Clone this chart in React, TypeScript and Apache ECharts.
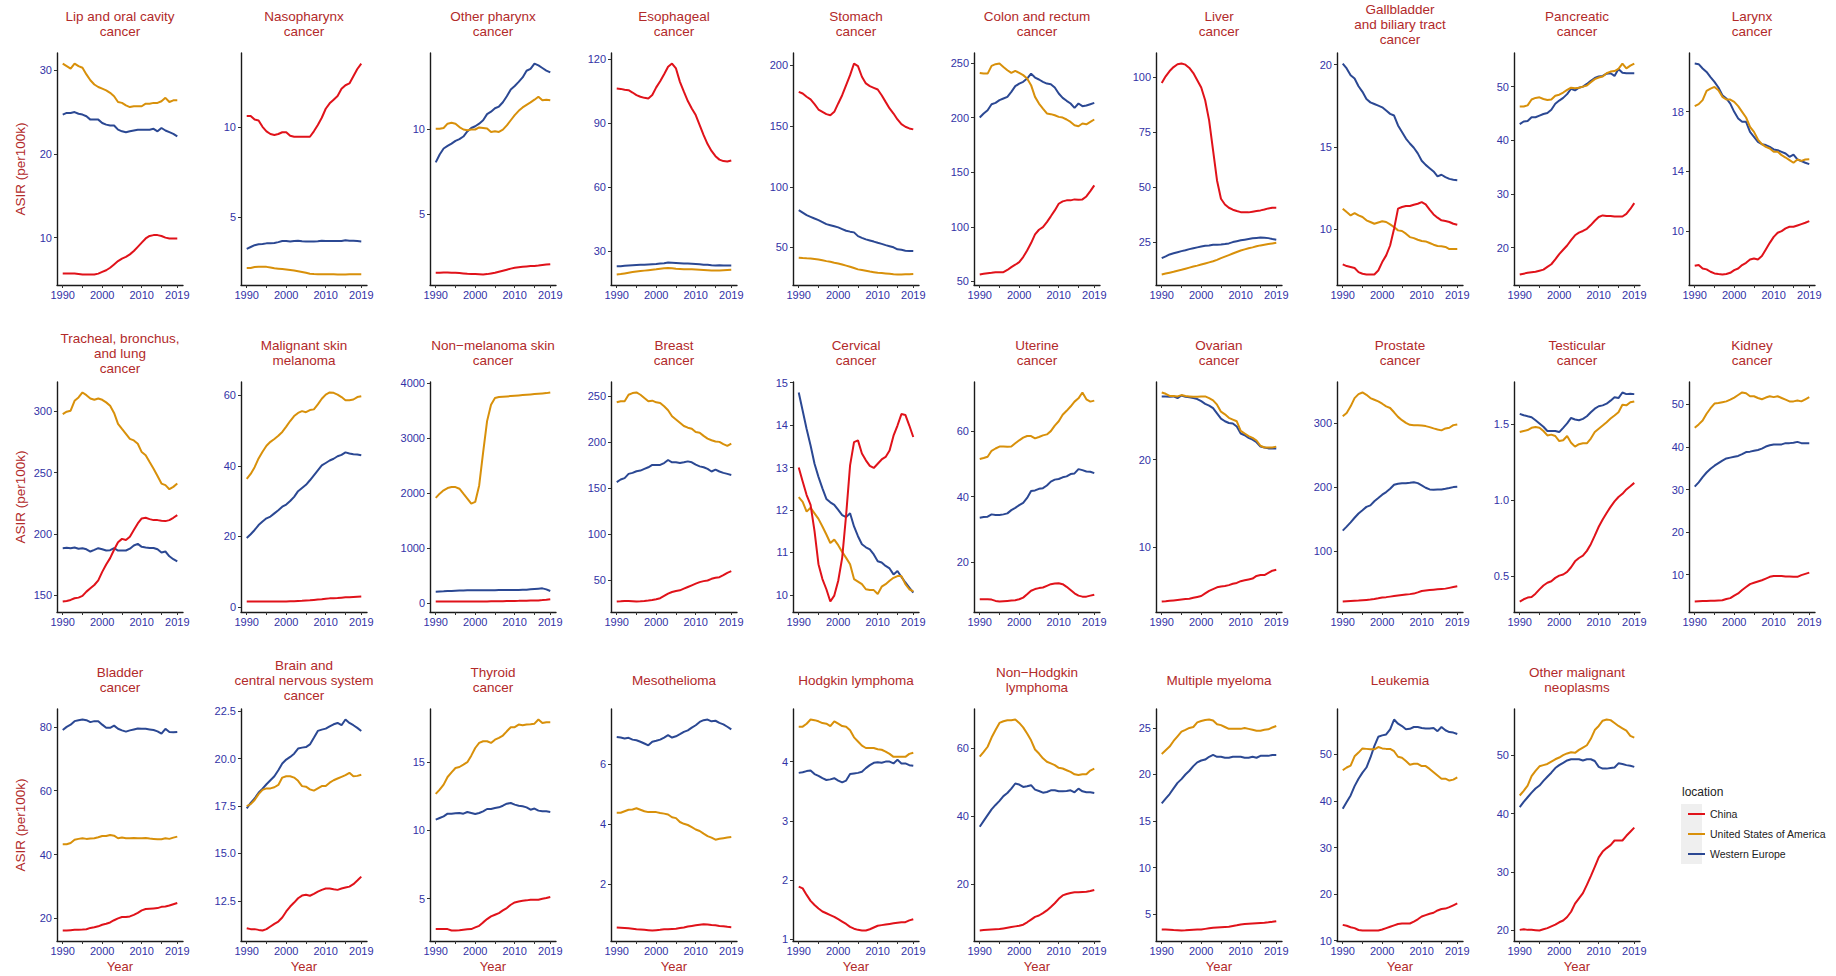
import React, { useEffect, useRef } from "react";
import * as echarts from "echarts";

// ---------------- data ----------------
const years = [1990,1991,1992,1993,1994,1995,1996,1997,1998,1999,2000,2001,2002,2003,2004,2005,2006,2007,2008,2009,2010,2011,2012,2013,2014,2015,2016,2017,2018,2019];
const locations = ["China", "United States of America", "Western Europe"];
const xTickYears = [1990, 1995, 2000, 2005, 2010, 2015, 2019];
const xLabelYears = [1990, 2000, 2010, 2019];

const panelTitles = [
  "Lip and oral cavity\ncancer", "Nasopharynx\ncancer", "Other pharynx\ncancer", "Esophageal\ncancer", "Stomach\ncancer",
  "Colon and rectum\ncancer", "Liver\ncancer", "Gallbladder\nand biliary tract\ncancer", "Pancreatic\ncancer", "Larynx\ncancer",
  "Tracheal, bronchus,\nand lung\ncancer", "Malignant skin\nmelanoma", "Non\u2212melanoma skin\ncancer", "Breast\ncancer", "Cervical\ncancer",
  "Uterine\ncancer", "Ovarian\ncancer", "Prostate\ncancer", "Testicular\ncancer", "Kidney\ncancer",
  "Bladder\ncancer", "Brain and\ncentral nervous system\ncancer", "Thyroid\ncancer", "Mesothelioma", "Hodgkin lymphoma",
  "Non\u2212Hodgkin\nlymphoma", "Multiple myeloma", "Leukemia", "Other malignant\nneoplasms",
];

const panelTicks = [
  [10, 20, 30], [5, 10], [5, 10], [30, 60, 90, 120], [50, 100, 150, 200],
  [50, 100, 150, 200, 250], [25, 50, 75, 100], [10, 15, 20], [20, 30, 40, 50], [10, 14, 18],
  [150, 200, 250, 300], [0, 20, 40, 60], [0, 1000, 2000, 3000, 4000], [50, 100, 150, 200, 250], [10, 11, 12, 13, 14, 15],
  [20, 40, 60], [10, 20], [100, 200, 300], [0.5, 1.0, 1.5], [10, 20, 30, 40, 50],
  [20, 40, 60, 80], [12.5, 15, 17.5, 20, 22.5], [5, 10, 15], [2, 4, 6], [1, 2, 3, 4],
  [20, 40, 60], [5, 10, 15, 20, 25], [10, 20, 30, 40, 50], [20, 30, 40, 50],
];

const lipOral = {
  china: [5.7,5.7,5.7,5.7,5.65,5.6,5.6,5.6,5.6,5.7,5.9,6.1,6.4,6.8,7.2,7.5,7.7,8.0,8.4,8.9,9.4,9.9,10.2,10.3,10.3,10.2,10.0,9.9,9.9,9.9],
  usa: [30.8,30.5,30.2,30.8,30.5,30.3,29.5,28.8,28.3,28.0,27.8,27.6,27.3,26.9,26.2,26.1,25.8,25.6,25.7,25.7,25.7,26.0,26.0,26.1,26.1,26.3,26.7,26.2,26.4,26.4],
  we: [24.7,24.9,24.9,25.0,24.8,24.7,24.5,24.1,24.1,24.1,23.7,23.5,23.4,23.4,22.9,22.7,22.6,22.7,22.8,22.9,22.9,22.9,22.9,23.0,22.7,23.1,22.8,22.6,22.4,22.1],
};
const nasopharynx = {
  china: [10.6,10.6,10.4,10.35,10.0,9.75,9.6,9.55,9.6,9.7,9.7,9.5,9.45,9.45,9.45,9.45,9.45,9.75,10.1,10.5,11.0,11.3,11.5,11.7,12.1,12.3,12.4,12.8,13.2,13.5],
  usa: [2.19,2.19,2.24,2.26,2.26,2.25,2.21,2.17,2.15,2.13,2.11,2.08,2.05,2.01,1.97,1.92,1.87,1.85,1.84,1.84,1.84,1.84,1.84,1.83,1.83,1.83,1.84,1.84,1.84,1.84],
  we: [3.25,3.35,3.45,3.5,3.52,3.55,3.55,3.57,3.62,3.68,3.68,3.65,3.68,3.7,3.67,3.65,3.65,3.65,3.67,3.7,3.68,3.68,3.68,3.68,3.68,3.72,3.7,3.7,3.68,3.66],
};
const otherPharynx = {
  china: [1.6,1.6,1.62,1.62,1.6,1.6,1.58,1.56,1.54,1.53,1.52,1.51,1.5,1.52,1.56,1.6,1.66,1.72,1.78,1.84,1.89,1.92,1.95,1.97,1.99,2.0,2.02,2.05,2.08,2.1],
  usa: [10.0,10.0,10.05,10.3,10.35,10.3,10.1,9.96,9.92,9.96,9.96,10.08,10.05,10.02,9.82,9.86,9.82,9.95,10.2,10.5,10.8,11.05,11.25,11.4,11.54,11.7,11.87,11.67,11.7,11.67],
  we: [8.04,8.5,8.85,9.0,9.14,9.3,9.4,9.55,9.85,10.05,10.15,10.3,10.5,10.86,11.0,11.2,11.3,11.55,11.9,12.3,12.5,12.74,13.0,13.39,13.5,13.81,13.7,13.55,13.4,13.29],
};
const esophageal = {
  china: [106.4,106.2,105.8,105.6,104.5,103.3,102.5,102,101.7,103.3,106.9,109.8,113.1,116.6,118.1,115.8,109.5,104.9,100.5,97,93.9,89.2,84.5,80.3,77.1,74.6,73,72.3,72.1,72.6],
  usa: [19.1,19.3,19.6,19.9,20.2,20.5,20.7,20.9,21.1,21.3,21.5,21.8,22.0,22.1,22.0,21.8,21.7,21.6,21.5,21.5,21.4,21.3,21.2,21.1,21.0,20.9,21.0,21.1,21.2,21.3],
  we: [23.0,23.0,23.2,23.3,23.4,23.5,23.6,23.7,23.8,23.9,24.0,24.2,24.4,24.7,24.6,24.5,24.4,24.3,24.2,24.1,24.0,23.9,23.7,23.6,23.4,23.3,23.4,23.3,23.3,23.3],
};
const stomach = {
  china: [178.3,176.9,174.2,172,168.1,163.7,161.8,159.9,159,161.8,168.7,175.5,183.8,192,201.6,199.5,190.7,185.2,183,181.6,180.2,175.5,170,164.6,160.4,155.5,151.6,149.5,148.1,147.3],
  usa: [41.5,41.2,41.0,40.9,40.5,40.1,39.4,38.7,38.1,37.4,36.8,35.9,35.0,34.1,33.0,31.9,31.3,30.7,30.1,29.6,29.1,28.8,28.5,28.2,27.9,27.7,27.7,27.8,27.9,28.0],
  we: [80.8,78.7,76.6,75.2,73.8,72.5,70.9,69.2,68.3,67.4,66.5,65.1,63.7,63.0,62.4,59.3,57.9,56.6,55.7,54.8,53.8,52.9,51.9,51.0,50.1,48.4,48.0,47.3,47.1,47.0],
};
const colonRectum = {
  china: [56.4,57.0,57.6,58.0,58.5,58.5,58.5,60.5,63.1,65.3,67.7,72.3,78.4,85.1,93,97.3,99.7,104.3,109.6,115,121.1,123.3,124.2,124.2,125.1,124.8,125.1,127.8,132.7,137.9],
  usa: [240.8,240.2,240.2,247.3,248.8,249.4,246.3,243.3,240.8,242.7,240.8,238.8,235.7,229.6,218.9,212.8,208.2,203.7,203.1,202.1,200.6,200,198.2,196,193,192,194.5,193.8,196,198.2],
  we: [200,203.7,206.7,212.2,213.4,215.9,217.4,218.9,223.5,228.7,231.1,232.7,235.7,240.2,236.6,234.8,232.7,231.1,230.5,227.5,222,218,215.3,212.8,208.8,212.8,210.4,211,212.2,213.4],
};
const liver = {
  china: [97.3,100.3,102.7,104.5,105.8,106.1,105.6,104.1,101.8,98.5,95.2,89.4,80.3,66.7,53,44.7,42.1,40.6,39.7,39.1,38.6,38.5,38.5,38.8,39.1,39.4,39.8,40.3,40.6,40.6],
  usa: [10.3,10.7,11.1,11.5,12.0,12.4,12.9,13.4,13.9,14.3,14.8,15.3,15.8,16.3,16.9,17.7,18.4,19.1,19.8,20.5,21.2,21.7,22.2,22.6,23.1,23.5,23.8,24.1,24.4,24.7],
  we: [17.7,18.5,19.4,19.9,20.4,20.9,21.3,21.8,22.2,22.6,23.0,23.3,23.5,23.8,23.8,23.9,24.1,24.4,25.0,25.4,25.8,26.1,26.4,26.7,26.9,27.1,27.0,26.8,26.4,26.1],
};
const gallbladder = {
  china: [7.85,7.75,7.69,7.63,7.38,7.28,7.24,7.24,7.24,7.48,7.99,8.4,9.0,10.02,11.24,11.34,11.4,11.4,11.48,11.54,11.64,11.5,11.18,10.89,10.69,10.53,10.49,10.43,10.32,10.26],
  usa: [11.24,11.03,10.83,10.97,10.83,10.73,10.53,10.43,10.32,10.4,10.47,10.43,10.28,10.12,9.92,9.88,9.72,9.51,9.45,9.35,9.27,9.25,9.15,9.05,8.97,8.95,8.91,8.78,8.78,8.78],
  we: [20.06,19.76,19.35,19.15,18.68,18.34,17.9,17.7,17.6,17.5,17.4,17.2,17.0,16.9,16.3,15.9,15.5,15.2,14.94,14.6,14.15,13.9,13.7,13.5,13.2,13.3,13.16,13.05,13.0,12.97],
};
const pancreatic = {
  china: [15.0,15.15,15.3,15.4,15.5,15.7,15.9,16.4,16.9,17.8,18.8,19.6,20.4,21.4,22.3,22.8,23.1,23.5,24.2,25,25.7,26.0,25.9,25.9,25.8,25.8,25.8,26.3,27.2,28.3],
  usa: [46.3,46.3,46.5,47.6,47.9,48.0,47.7,47.5,47.6,48.3,48.5,48.9,49.4,49.8,49.7,49.8,50,50.2,50.8,51.4,51.7,51.9,52.5,52.8,52.9,53.3,54.3,53.4,53.9,54.3],
  we: [43.0,43.5,43.6,44.3,44.3,44.6,44.9,45.1,45.7,46.8,47.4,47.9,48.6,49.6,49.3,49.8,50,50.5,51.1,51.6,51.9,52.0,52.4,52.5,52.0,53.3,52.6,52.5,52.5,52.5],
};
const larynx = {
  china: [7.71,7.76,7.53,7.47,7.31,7.2,7.16,7.13,7.16,7.24,7.42,7.53,7.76,7.91,8.13,8.2,8.13,8.36,8.8,9.24,9.64,9.91,10.02,10.2,10.31,10.31,10.4,10.49,10.58,10.69],
  usa: [18.36,18.49,18.76,19.38,19.53,19.64,19.42,18.98,18.8,18.8,18.64,18.36,17.98,17.6,16.98,16.64,16.13,15.82,15.64,15.53,15.31,15.31,15.09,14.93,14.76,14.58,14.8,14.71,14.8,14.82],
  we: [21.2,21.16,20.87,20.64,20.3,19.98,19.6,19.09,18.87,18.53,17.98,17.53,17.31,17.31,16.64,16.31,15.98,15.82,15.76,15.64,15.47,15.42,15.31,15.2,14.98,15.13,14.8,14.69,14.58,14.49],
};
const trachealLung = {
  china: [144.9,145.4,146.2,147.6,148.1,149.5,153,155.7,158.4,162.2,169.1,175.1,180.3,187.1,193.3,196,195.1,197.8,203.2,208.6,212.7,213.2,212.1,211.3,211.3,210.8,210.5,211.3,213.2,215.4],
  usa: [297.8,299.7,300.5,308.6,311.3,315.4,313.2,310.5,309.4,310.5,309.4,307.3,304.6,298.7,289.8,285.7,281.7,277.6,276.3,273.6,266.8,264.2,258.6,253.2,247.3,241.1,239.8,236.5,238.4,241.1],
  we: [188.4,188.7,188.4,189,188,188.4,187.5,185.7,187,188.4,187.5,186.5,186.8,188.4,186.5,186.5,186.5,188,190.6,191.9,189.5,189,188.6,188.6,187.5,184.9,185.7,181.8,179.4,177.6],
};
const melanoma = {
  china: [1.5,1.5,1.5,1.5,1.5,1.5,1.5,1.5,1.5,1.5,1.5,1.55,1.6,1.65,1.7,1.8,1.85,1.95,2.05,2.15,2.3,2.4,2.45,2.5,2.6,2.7,2.75,2.8,2.85,2.9],
  usa: [36.3,37.7,39.6,42.1,44,45.7,46.8,47.6,48.5,49.6,51.1,52.7,54.1,55,55.5,55.2,55.8,56,57.4,59,60.2,60.8,60.7,60.2,59.5,58.6,58.6,58.8,59.5,59.7],
  we: [19.5,20.6,21.8,23.2,24.2,25.1,25.6,26.5,27.4,28.4,29,30,31.2,32.8,33.7,34.6,35.9,37.3,38.7,40.1,40.8,41.5,42,42.7,43.1,43.8,43.5,43.3,43.2,43],
};
const nonMelanomaSkin = {
  china: [24,24,24,24,24,24,24,24,24,24,24,25,26,27,28,29,30,31,33,35,36,37,38,39,41,42,45,50,56,66],
  usa: [1911,1989,2049,2091,2109,2109,2079,1989,1900,1808,1838,2139,2739,3310,3610,3730,3748,3754,3760,3766,3772,3778,3784,3790,3796,3802,3808,3814,3820,3832],
  we: [204,207,210,214,218,222,224,226,228,228,228,229,230,230,231,231,232,232,233,233,234,236,238,240,246,252,258,264,246,216],
};
const breast = {
  china: [26.7,27.0,27.4,27.2,27.0,26.7,26.9,27.3,27.8,28.4,29.2,30.3,32.8,35.3,37.1,38.2,38.9,40.7,42.5,44.3,46.1,47.8,48.9,49.6,51.4,52.5,53.2,55.4,57.9,59.7],
  usa: [243.2,244.3,244.3,251.4,253.2,253.9,251.4,247.8,244.3,245,243.2,242.5,238.9,234.6,228.1,224.6,221,217.4,215.6,214.5,210.9,210.2,206.7,203.8,202,200.6,200.2,197.7,195.9,198.4],
  we: [156.5,159.3,160.8,165.4,166.5,168.3,169,170.8,172.6,175.1,175.1,175.1,177.2,180.5,178,178,177.2,178,179,178,175.4,173.6,172.6,170.8,168,170.1,168,166.5,165.4,164.3],
};
const cervical = {
  china: [13.0,12.67,12.35,12.12,11.5,10.72,10.37,10.13,9.84,9.98,10.33,10.87,11.88,13.05,13.6,13.64,13.33,13.17,13.04,12.99,13.09,13.19,13.25,13.4,13.75,13.99,14.26,14.24,13.99,13.72],
  usa: [12.3,12.19,11.96,12.05,11.92,11.79,11.61,11.42,11.22,11.3,11.17,11.01,10.87,10.72,10.37,10.31,10.25,10.13,10.11,10.11,10.02,10.19,10.25,10.33,10.4,10.44,10.44,10.25,10.13,10.08],
  we: [14.77,14.34,13.91,13.52,13.09,12.78,12.51,12.26,12.18,12.12,12.0,11.88,11.83,11.92,11.61,11.38,11.19,11.12,11.07,10.95,10.79,10.76,10.68,10.62,10.48,10.56,10.42,10.29,10.17,10.05],
};
const uterine = {
  china: [8.7,8.7,8.7,8.6,8.2,8.0,8.1,8.2,8.3,8.4,8.7,9.2,10.2,11.3,11.8,12.1,12.3,12.8,13.3,13.5,13.6,13.3,12.5,11.5,10.5,9.8,9.5,9.5,9.8,10.1],
  usa: [51.5,51.8,52.2,54,54.7,55.3,55.3,55.2,55.3,56.3,57.2,58,58.5,58.5,57.8,58.2,58.7,59,60,61.7,63,65,66.2,67.5,69,70,71.8,69.7,69,69.3],
  we: [33.6,33.8,33.9,34.6,34.4,34.4,34.6,34.9,35.9,36.6,37.4,38.1,39.6,41.7,41.9,42.4,42.6,43.4,44.6,45.2,45.4,45.9,46.2,46.9,47.1,48.4,48.1,47.7,47.6,47.2],
};
const ovarian = {
  china: [3.77,3.8,3.85,3.9,3.95,4.0,4.05,4.1,4.2,4.3,4.4,4.7,5.0,5.2,5.4,5.5,5.55,5.65,5.8,5.9,6.1,6.2,6.3,6.4,6.7,6.8,6.8,7.05,7.3,7.4],
  usa: [27.7,27.55,27.3,27.3,27.25,27.4,27.3,27.25,27.2,27.2,27.25,27.25,27.05,26.8,26.3,25.5,25.2,24.8,24.6,24.4,23.3,23.0,22.7,22.5,22.2,21.6,21.4,21.4,21.4,21.5],
  we: [27.25,27.25,27.2,27.25,27.05,27.35,27.2,27.15,27.05,26.95,26.7,26.4,26.2,25.9,25.3,24.7,24.4,24.2,24.15,23.8,23.0,22.8,22.5,22.3,22.0,21.5,21.4,21.3,21.3,21.3],
};
const prostate = {
  china: [21.6,22.0,22.4,22.8,23.2,23.7,24.2,24.7,25.5,26.6,27.8,28.5,29.3,30.1,30.9,31.7,32.5,33.2,34,35.9,38.1,38.8,39.5,40.2,40.8,41.3,41.8,43,44.2,45.4],
  usa: [311.3,316.5,326.8,339.7,345.9,348.5,344.8,339.7,337.1,334.5,330.9,326.8,324.2,317.5,310.3,305.2,301,297.9,297.4,297.4,296.9,295.9,294.3,292.3,290.7,289.2,292.3,293.3,297.4,298.5],
  we: [132.5,138.7,145.4,152.6,159.3,164.4,169.6,172,178.4,183.5,188.7,192.8,197.9,204.1,205.7,206.7,206.7,207.2,208.2,206.7,203.1,199.5,196.9,196.4,196.9,196.9,197.9,199,200.5,201],
};
const testicular = {
  china: [0.333,0.348,0.359,0.363,0.385,0.413,0.439,0.457,0.467,0.489,0.504,0.511,0.528,0.559,0.598,0.62,0.635,0.667,0.711,0.767,0.826,0.874,0.917,0.957,0.993,1.022,1.043,1.072,1.093,1.115],
  usa: [1.45,1.457,1.463,1.478,1.483,1.478,1.457,1.428,1.433,1.424,1.391,1.396,1.424,1.38,1.354,1.37,1.376,1.376,1.407,1.45,1.472,1.493,1.515,1.539,1.559,1.58,1.63,1.626,1.646,1.652],
  we: [1.57,1.561,1.554,1.548,1.528,1.507,1.485,1.457,1.457,1.457,1.45,1.478,1.507,1.543,1.533,1.528,1.537,1.554,1.58,1.604,1.62,1.626,1.637,1.657,1.68,1.674,1.711,1.7,1.702,1.7],
};
const kidney = {
  china: [3.7,3.75,3.8,3.85,3.9,3.9,3.95,4.0,4.3,4.5,5.1,5.6,6.4,7.1,7.8,8.1,8.4,8.7,9.1,9.5,9.7,9.7,9.7,9.6,9.6,9.5,9.5,9.9,10.2,10.5],
  usa: [44.5,45.3,46.2,47.8,49.1,50.2,50.3,50.5,50.7,51.1,51.6,52.2,52.8,52.6,51.9,51.9,51.5,51.2,51.6,51.9,51.7,51.9,51.5,51.1,50.7,50.7,50.9,50.7,51.2,51.7],
  we: [30.7,31.7,32.9,34,34.9,35.6,36.2,36.8,37.3,37.5,37.7,37.9,38.3,38.8,38.9,39.1,39.3,39.6,40.1,40.4,40.6,40.6,40.6,40.9,40.9,41,41.2,40.9,40.9,40.9],
};
const bladder = {
  china: [16.2,16.2,16.3,16.4,16.45,16.5,16.6,17,17.2,17.5,18,18.3,18.7,19.4,20,20.4,20.4,20.6,21.1,21.7,22.5,22.9,23,23.1,23.2,23.6,23.7,24,24.4,24.8],
  usa: [43.2,43.2,43.6,44.6,44.9,45.1,44.9,45,45.1,45.4,45.8,45.8,46.1,45.9,45.1,45.3,45.1,45.1,45.2,45.1,45.1,45.2,45,44.9,44.8,44.8,45.1,44.9,45.3,45.6],
  we: [79,80,80.7,81.8,82.1,82.3,82.1,81.5,81.8,81.8,80.7,79.7,79.7,80.4,79.4,78.9,78.5,78.9,79.2,79.5,79.4,79.4,79.2,79,78.6,77.9,79.4,78.4,78.3,78.4],
};
const brainCns = {
  china: [11.06,11.01,11.01,10.97,10.94,11.01,11.15,11.29,11.41,11.62,11.94,12.2,12.41,12.64,12.78,12.82,12.77,12.87,12.99,13.08,13.15,13.15,13.11,13.08,13.15,13.2,13.25,13.38,13.57,13.78],
  usa: [17.5,17.6,17.82,18.13,18.35,18.43,18.43,18.49,18.61,19.0,19.07,19.07,19.0,18.83,18.55,18.52,18.38,18.31,18.43,18.55,18.55,18.73,18.86,18.95,19.04,19.13,19.25,19.07,19.09,19.15],
  we: [17.38,17.67,17.9,18.2,18.42,18.65,18.86,19.07,19.39,19.74,19.95,20.09,20.26,20.53,20.58,20.61,20.75,21.1,21.46,21.53,21.58,21.7,21.81,21.88,21.76,22.06,21.88,21.76,21.62,21.46],
};
const thyroid = {
  china: [2.78,2.78,2.78,2.78,2.68,2.68,2.7,2.73,2.76,2.78,2.9,3.02,3.27,3.51,3.71,3.83,3.95,4.15,4.32,4.56,4.73,4.8,4.85,4.88,4.93,4.93,4.93,5.0,5.05,5.12],
  usa: [12.66,12.98,13.34,13.9,14.24,14.56,14.63,14.8,14.98,15.46,16.02,16.39,16.51,16.51,16.39,16.63,16.76,16.93,17.24,17.54,17.54,17.73,17.68,17.73,17.76,17.8,18.1,17.85,17.9,17.9],
  we: [10.78,10.9,11.02,11.22,11.22,11.25,11.27,11.22,11.34,11.27,11.2,11.27,11.39,11.56,11.56,11.63,11.68,11.8,11.95,12.0,11.88,11.8,11.76,11.68,11.51,11.59,11.44,11.39,11.39,11.34],
};
const mesothelioma = {
  china: [0.56,0.55,0.54,0.53,0.52,0.5,0.49,0.48,0.47,0.46,0.47,0.48,0.5,0.5,0.51,0.52,0.54,0.56,0.59,0.61,0.63,0.65,0.67,0.66,0.64,0.63,0.61,0.6,0.58,0.57],
  usa: [4.39,4.39,4.44,4.49,4.5,4.54,4.49,4.44,4.41,4.41,4.41,4.38,4.36,4.33,4.24,4.21,4.08,4.02,3.98,3.91,3.83,3.78,3.69,3.61,3.56,3.49,3.52,3.54,3.56,3.58],
  we: [6.92,6.9,6.87,6.89,6.83,6.81,6.76,6.7,6.64,6.76,6.79,6.83,6.9,6.98,6.9,6.94,7.01,7.09,7.14,7.23,7.31,7.42,7.48,7.5,7.44,7.46,7.39,7.34,7.26,7.17],
};
const hodgkin = {
  china: [1.89,1.86,1.75,1.65,1.58,1.52,1.47,1.44,1.41,1.38,1.34,1.3,1.26,1.21,1.18,1.16,1.15,1.15,1.17,1.2,1.23,1.24,1.25,1.26,1.27,1.28,1.29,1.29,1.32,1.34],
  usa: [4.59,4.59,4.64,4.71,4.7,4.68,4.65,4.64,4.6,4.68,4.64,4.6,4.59,4.53,4.41,4.34,4.27,4.23,4.23,4.23,4.21,4.2,4.17,4.13,4.08,4.08,4.08,4.08,4.13,4.15],
  we: [3.81,3.82,3.84,3.85,3.79,3.76,3.72,3.69,3.7,3.72,3.68,3.65,3.68,3.79,3.8,3.81,3.83,3.89,3.94,3.98,3.99,3.98,4.0,4.0,3.97,4.03,3.97,3.97,3.94,3.93],
};
const nonHodgkin = {
  china: [6.4,6.5,6.6,6.7,6.75,6.8,7.0,7.2,7.4,7.6,7.8,8.1,8.8,9.6,10.4,10.8,11.5,12.3,13.3,14.4,15.7,16.7,17.1,17.4,17.6,17.6,17.7,17.8,18.0,18.3],
  usa: [57.5,58.9,60.4,63.1,65.3,67.4,67.9,68.2,68.2,68.4,67.4,66.1,64.3,62.3,59.6,58.4,57,56,55.5,55,54.2,54,53.5,53,52.3,52.1,52.3,52.3,53.4,54],
  we: [36.9,38.6,40.3,42,43.3,44.5,45.9,46.8,48.1,49.6,49.3,48.6,48.8,49.1,47.8,47.4,46.9,47.1,47.6,47.6,47.3,47.3,47.4,47.6,47,48.1,47.3,47,47,46.8],
};
const myeloma = {
  china: [3.36,3.35,3.33,3.3,3.28,3.25,3.27,3.3,3.32,3.34,3.36,3.42,3.48,3.54,3.58,3.6,3.62,3.64,3.72,3.8,3.9,3.94,3.97,4.0,4.03,4.05,4.07,4.12,4.18,4.25],
  usa: [22.2,22.6,23.0,23.6,24.1,24.6,24.8,25,25.1,25.6,25.75,25.85,25.9,25.8,25.4,25.3,25.1,24.9,24.9,24.9,24.9,25,24.9,24.8,24.7,24.7,24.8,24.85,25.05,25.2],
  we: [16.9,17.4,17.9,18.5,19.1,19.5,20,20.4,20.9,21.3,21.5,21.6,21.9,22.1,21.9,21.9,21.8,21.8,21.9,21.9,21.9,21.8,21.8,21.9,21.8,22,22,22,22.1,22.1],
};
const leukemia = {
  china: [13.4,13.2,12.9,12.7,12.3,12.2,12.2,12.2,12.2,12.2,12.4,12.7,13,13.3,13.6,13.7,13.7,13.7,14.1,14.6,15.2,15.5,15.8,16,16.5,16.8,16.9,17.2,17.6,18.0],
  usa: [46.6,47.2,47.6,49.6,50.4,51.3,51.2,51.1,51.1,51.6,51.3,51.2,51.2,50.7,49.5,49.3,48.6,47.8,48,48,47.5,47.5,46.9,46.2,45.5,44.8,44.8,44.4,44.6,45.1],
  we: [38.35,39.8,41.2,43.2,44.8,46.1,47.2,49.3,51.8,53.8,54.1,54.3,55.4,57.5,56.6,56.1,55.4,55.5,55.9,55.9,55.7,55.6,55.6,55.7,55,55.9,55.2,54.8,54.7,54.4],
};
const otherMalignant = {
  china: [20.1,20.2,20.1,20.1,20.05,20,20.2,20.4,20.7,21,21.4,21.7,22.3,23.2,24.6,25.5,26.4,27.8,29.3,30.9,32.5,33.5,34.1,34.6,35.4,35.4,35.4,36.2,36.9,37.6],
  usa: [43.1,43.9,44.8,46.4,47.3,48.1,48.3,48.5,48.9,49.3,49.6,50,50.3,50.5,50.4,50.9,51.3,51.7,52.8,54.3,55,55.9,56.1,56,55.5,55,54.6,54.2,53.3,53],
  we: [41.1,42,42.8,43.6,44.3,44.8,45.6,46.3,47,47.8,48.3,48.7,49.1,49.3,49.3,49.3,49.1,49.3,49.3,49,48,47.7,47.7,47.8,47.9,48.6,48.5,48.3,48.2,48],
};

const panelData = [
  lipOral, nasopharynx, otherPharynx, esophageal, stomach, colonRectum, liver, gallbladder, pancreatic, larynx,
  trachealLung, melanoma, nonMelanomaSkin, breast, cervical, uterine, ovarian, prostate, testicular, kidney,
  bladder, brainCns, thyroid, mesothelioma, hodgkin, nonHodgkin, myeloma, leukemia, otherMalignant,
];

// ---------------- layout & style ----------------
const colLeft = [57, 241, 430, 611, 793, 974, 1156, 1337, 1514, 1689];
const rowTop = [53, 382, 709];
const rowBottom = [285, 612, 941];
const gridW = 126;
const seriesColors = ["#e0121a", "#d8900a", "#2b4893"];
const titleColor = "#b22a2a";
const tickColor = "#3232a6";
const fontFamily = "'Liberation Sans', Arial, sans-serif";

function buildOption() {
  const grid: any[] = [];
  const xAxis: any[] = [];
  const yAxis: any[] = [];
  const series: any[] = [];
  const title: any[] = [];

  panelData.forEach((p, i) => {
    const row = Math.floor(i / 10);
    const col = i % 10;
    const left = colLeft[col];
    const top = rowTop[row];
    const height = rowBottom[row] - rowTop[row];
    grid.push({ left, top, width: gridW, height, containLabel: false });

    const all = [...p.china, ...p.usa, ...p.we];
    const lo = Math.min(...all);
    const hi = Math.max(...all);
    const pad = (hi - lo) * 0.05;
    const ticks = panelTicks[i];
    const dec = ticks.some((t) => !Number.isInteger(t)) ? 1 : 0;

    xAxis.push({
      type: "value",
      gridIndex: i,
      min: 1988.55,
      max: 2020.45,
      axisLine: { show: true, onZero: false, lineStyle: { color: "#1a1a1a", width: 1.4 } },
      axisTick: { show: true, customValues: xTickYears, length: 3, lineStyle: { color: "#333", width: 1 } },
      axisLabel: {
        show: true,
        customValues: xLabelYears,
        color: tickColor,
        fontSize: 11,
        margin: 4,
        fontFamily,
        formatter: (v: number) => String(Math.round(v)),
      },
      splitLine: { show: false },
      name: row === 2 ? "Year" : "",
      nameLocation: "middle",
      nameGap: 19,
      nameTextStyle: { color: titleColor, fontSize: 13, fontFamily },
    });
    yAxis.push({
      type: "value",
      gridIndex: i,
      min: lo - pad,
      max: hi + pad,
      axisLine: { show: true, onZero: false, lineStyle: { color: "#1a1a1a", width: 1.4 } },
      axisTick: { show: true, customValues: ticks, length: 3, lineStyle: { color: "#333", width: 1 } },
      axisLabel: {
        show: true,
        customValues: ticks,
        color: tickColor,
        fontSize: 11,
        margin: 5,
        fontFamily,
        formatter: (v: number) => v.toFixed(dec),
      },
      splitLine: { show: false },
      name: col === 0 ? "ASIR (per100k)" : "",
      nameLocation: "middle",
      nameRotate: 90,
      nameGap: 30,
      nameTextStyle: { color: titleColor, fontSize: 13.5, fontFamily },
    });

    const lists = [p.china, p.usa, p.we];
    lists.forEach((vals, k) => {
      series.push({
        type: "line",
        name: locations[k],
        xAxisIndex: i,
        yAxisIndex: i,
        data: years.map((y, j) => [y, vals[j]]),
        showSymbol: false,
        symbol: "none",
        lineStyle: { color: seriesColors[k], width: 2 },
        itemStyle: { color: seriesColors[k] },
        color: seriesColors[k],
        silent: true,
        z: 2 + (2 - k),
      });
    });

    title.push({
      text: panelTitles[i],
      left: left + gridW / 2,
      top: top - 29,
      textAlign: "center",
      textVerticalAlign: "middle",
      padding: 0,
      textStyle: { color: titleColor, fontSize: 13.5, fontWeight: "normal", lineHeight: 15, fontFamily },
    });
  });

  return {
    animation: false,
    backgroundColor: "#ffffff",
    textStyle: { fontFamily },
    title,
    grid,
    xAxis,
    yAxis,
    series,
    legend: {
      orient: "vertical",
      left: 1683,
      top: 803,
      itemWidth: 17,
      itemHeight: 2,
      itemGap: 8,
      icon: "rect",
      selectedMode: false,
      data: locations,
      textStyle: { fontSize: 10.5, color: "#222", lineHeight: 12, fontFamily },
    },
    graphic: [
      { type: "rect", left: 1681, top: 804, shape: { width: 21, height: 60 }, style: { fill: "#efefef" }, z: -1 },
      {
        type: "text",
        x: 1682,
        y: 792,
        style: { text: "location", fill: "#222", font: `12px ${fontFamily}`, verticalAlign: "middle", align: "left" },
      },
    ],
  };
}

export default function App() {
  const ref = useRef<HTMLDivElement>(null);
  useEffect(() => {
    if (!ref.current) return;
    const chart = echarts.init(ref.current, undefined, { renderer: "svg" });
    chart.setOption(buildOption() as any);
    return () => chart.dispose();
  }, []);
  return (
    <div
      ref={ref}
      style={{ position: "absolute", left: 0, top: 0, width: 1836, height: 976, background: "#fff" }}
    />
  );
}
